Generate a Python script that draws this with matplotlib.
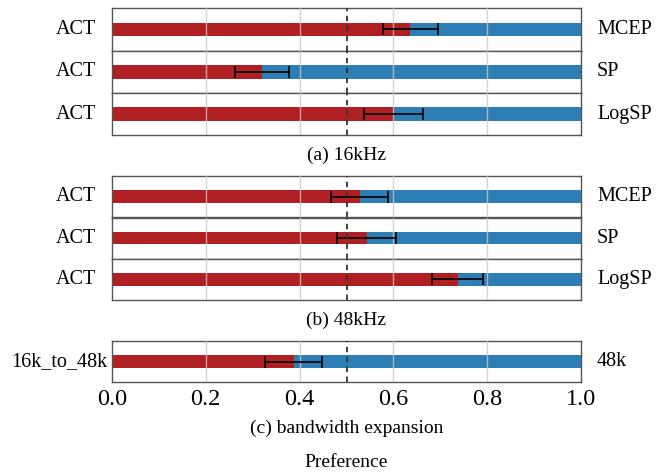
import matplotlib
matplotlib.use("Agg")
import matplotlib.pyplot as plt

plt.rcParams['font.family'] = ['Liberation Serif', 'DejaVu Serif']

# Panel (a) 16kHz
a_left = ["ACT", "ACT", "ACT"]
a_right = ["MCEP", "SP", "LogSP"]
a_pref = [0.636, 0.320, 0.601]
a_err = [0.059, 0.058, 0.063]

# Panel (b) 48kHz
b_left = ["ACT", "ACT", "ACT"]
b_right = ["MCEP", "SP", "LogSP"]
b_pref = [0.528, 0.543, 0.737]
b_err = [0.061, 0.063, 0.055]

# Panel (c) bandwidth expansion
c_left = ["16k_to_48k"]
c_right = ["48k"]
c_pref = [0.387]
c_err = [0.060]

captions = ["(a) 16kHz", "(b) 48kHz", "(c) bandwidth expansion"]
xlabel = "Preference"
xticks = [0.0, 0.2, 0.4, 0.6, 0.8, 1.0]

RED = "#b01f22"
BLUE = "#2e7eb6"

W, H = 662, 473
fig = plt.figure(figsize=(W / 100, H / 100), dpi=100)

x0, x1 = 112 / W, 581 / W
FS = 14.5

def make_row(top_px, bot_px, left, right, p, e, left_edge_px, last=False):
    ax = fig.add_axes([x0, 1 - bot_px / H, x1 - x0, (bot_px - top_px) / H])
    ax.barh([0], [p], height=0.31, color=RED, zorder=2)
    ax.barh([0], [1 - p], left=[p], height=0.31, color=BLUE, zorder=2)
    ax.errorbar([p], [0], xerr=[e], fmt='none', ecolor='black', elinewidth=1.2,
                capsize=4, capthick=1.2, zorder=4)
    ax.set_xlim(0, 1)
    ax.set_ylim(-0.5, 0.5)
    for xv in [0.2, 0.4, 0.6, 0.8]:
        ax.axvline(xv, color='#c8c8c8', lw=1.0, zorder=3, alpha=0.8)
    ax.axvline(0.5, color='#333333', lw=1.3, ls=(0, (3, 2.5)), zorder=5)
    ax.set_yticks([])
    fig.text(left_edge_px / W, 1 - (top_px + bot_px) / 2 / H, left, ha='right',
             va='center', fontsize=FS)
    fig.text(597 / W, 1 - (top_px + bot_px) / 2 / H, right, ha='left',
             va='center', fontsize=FS)
    for s in ax.spines.values():
        s.set_color('#555555')
        s.set_linewidth(1.0)
    if last:
        ax.set_xticks(xticks)
        ax.set_xticklabels([f"{t:.1f}" for t in xticks], fontsize=17.5)
        ax.tick_params(axis='x', length=0, pad=5)
    else:
        ax.set_xticks([])
    return ax

a_bounds = [(8, 51), (51, 93), (93, 135)]
for (t, b), l, r, p, e in zip(a_bounds, a_left, a_right, a_pref, a_err):
    make_row(t, b, l, r, p, e, 96)
b_bounds = [(176, 217.5), (217.5, 258.5), (258.5, 300)]
for (t, b), l, r, p, e in zip(b_bounds, b_left, b_right, b_pref, b_err):
    make_row(t, b, l, r, p, e, 96)
make_row(341, 382, c_left[0], c_right[0], c_pref[0], c_err[0], 107, last=True)

xc = (x0 + x1) / 2
fig.text(xc, 1 - 155 / H, captions[0], ha='center', va='center', fontsize=14)
fig.text(xc, 1 - 320 / H, captions[1], ha='center', va='center', fontsize=14)
fig.text(xc, 1 - 428 / H, captions[2], ha='center', va='center', fontsize=14)
fig.text(xc, 1 - 462 / H, xlabel, ha='center', va='center', fontsize=14)

fig.savefig("out.png", dpi=100)
